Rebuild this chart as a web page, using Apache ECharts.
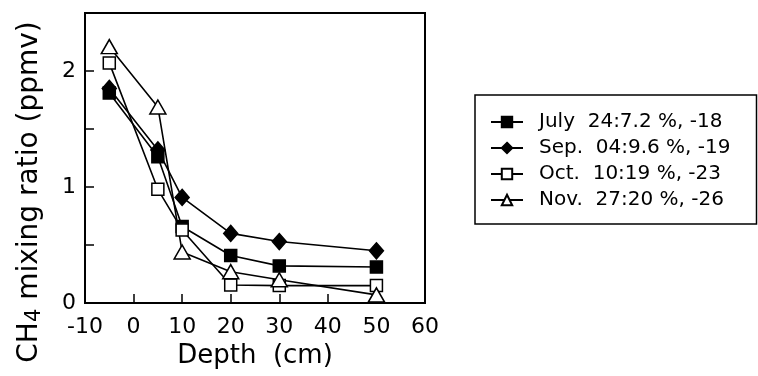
<!DOCTYPE html>
<html>
<head>
<meta charset="utf-8">
<script src="https://cdn.jsdelivr.net/npm/echarts@6/dist/echarts.min.js"></script>
<style>
  html, body { margin: 0; padding: 0; background: #fff; }
  #chart { width: 758px; height: 376px; }
</style>
</head>
<body>
<div id="chart"></div>
<script>
// depth (cm) and CH4 mixing ratio (ppmv)
const depths = [-5, 5, 10, 20, 30, 50];
const july = [1.81, 1.26, 0.66, 0.41, 0.32, 0.31];
const sep = [1.85, 1.32, 0.91, 0.60, 0.53, 0.45];
const oct = [2.07, 0.98, 0.63, 0.155, 0.15, 0.15];
const nov = [2.21, 1.69, 0.44, 0.27, 0.20, 0.07];
const names = [
	"July  24:7.2 %, -18",
	"Sep.  04:9.6 %, -19",
	"Oct.  10:19 %, -23",
	"Nov.  27:20 %, -26",
];
const xTicks = [-10, 0, 10, 20, 30, 40, 50, 60];

const font = "DejaVu Sans";

function pairs(vals) {
	return depths.map(function (d, i) {
		return [d, vals[i]];
	});
}

function lineSeries(name, vals, symbol, size, fill) {
	return {
		name: name,
		type: "line",
		data: pairs(vals),
		symbol: symbol,
		symbolSize: size,
		showAllSymbol: true,
		lineStyle: { color: "#000", width: 1.6 },
		itemStyle: { color: fill, borderColor: "#000", borderWidth: 1.5 },
		z: 3,
	};
}

const chart = echarts.init(document.getElementById("chart"));
chart.setOption({
	animation: false,
	backgroundColor: "#fff",
	textStyle: { fontFamily: font, color: "#000" },
	grid: {
		left: 85,
		right: 333,
		top: 13,
		bottom: 73,
		show: true,
		borderColor: "#000",
		borderWidth: 2,
	},
	xAxis: {
		type: "value",
		min: -10,
		max: 60,
		interval: 10,
		name: "Depth  (cm)",
		nameLocation: "middle",
		nameGap: 32,
		nameTextStyle: { fontSize: 26, color: "#000", fontFamily: font },
		axisLine: { show: true, onZero: false, lineStyle: { color: "#000", width: 2 } },
		axisTick: { show: true, inside: true, length: 9, lineStyle: { color: "#000", width: 1.5 } },
		axisLabel: {
			fontSize: 22,
			color: "#000",
			margin: 13,
			formatter: function (v) {
				return xTicks.indexOf(v) >= 0 ? String(v) : "";
			},
		},
		splitLine: { show: false },
	},
	yAxis: {
		type: "value",
		min: 0,
		max: 2.5,
		interval: 0.5,
		axisLine: { show: true, onZero: false, lineStyle: { color: "#000", width: 2 } },
		axisTick: { show: true, inside: true, length: 9, lineStyle: { color: "#000", width: 1.5 } },
		axisLabel: {
			fontSize: 22,
			color: "#000",
			margin: 9,
			formatter: function (v) {
				return Number.isInteger(v) ? String(v) : "";
			},
		},
		splitLine: { show: false },
	},
	legend: {
		orient: "vertical",
		left: 475,
		top: 95,
		padding: [17, 26, 14, 15],
		itemGap: 6,
		itemWidth: 32,
		itemHeight: 13,
		borderColor: "#000",
		borderWidth: 1.5,
		borderRadius: 0,
		textStyle: { fontSize: 20, color: "#000", fontFamily: font, padding: [0, 0, 0, 11] },
		data: names,
	},
	graphic: [
		{
			type: "text",
			x: 30,
			y: 192,
			rotation: Math.PI / 2,
			style: {
				text: "CH{sub|4} mixing ratio (ppmv)",
				font: "28px " + font,
				fill: "#000",
				align: "center",
				verticalAlign: "middle",
				rich: {
					sub: { fontSize: 21, fontFamily: font, padding: [9, 0, 0, 0], fill: "#000" },
				},
			},
		},
	],
	series: [
		lineSeries(names[0], july, "rect", 12, "#000"),
		lineSeries(names[1], sep, "diamond", [14, 16], "#000"),
		lineSeries(names[2], oct, "rect", 12, "#fff"),
		lineSeries(names[3], nov, "triangle", [16, 14], "#fff"),
	],
});
</script>
</body>
</html>
